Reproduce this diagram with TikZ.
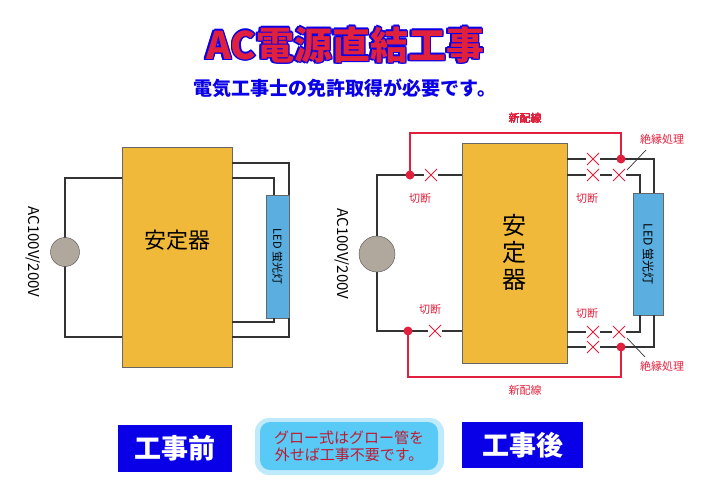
\documentclass[tikz,border=0pt]{standalone}
\usepackage{fontspec}
\setmainfont{Noto Sans CJK JP}
\usetikzlibrary{positioning}
\definecolor{ballast}{HTML}{F0B93A}
\definecolor{lampblue}{HTML}{5BAEE0}
\definecolor{plug}{HTML}{B0A89C}
\definecolor{wirered}{HTML}{E0203C}
\definecolor{boxblue}{HTML}{0A00E8}
\tikzset{
  wire/.style={line width=1.3pt,black!80},
  newwire/.style={line width=1.8pt,wirered},
  cut/.style={wirered,line width=0.9pt},
  redlabel/.style={wirered,font=\fontsize{11}{11}\selectfont},
  dot/.style={circle,fill=wirered,inner sep=0pt,minimum size=9pt},
  stepbox/.style={fill=boxblue,text=white,font=\fontsize{27}{27}\selectfont\bfseries,inner sep=0pt}
}
\newcommand{\cutmark}[1]{\draw[cut] ($(#1)+(-6,-6)$) -- ($(#1)+(6,6)$) ($(#1)+(-6,6)$) -- ($(#1)+(6,-6)$);}
\usetikzlibrary{calc}
\begin{document}
\begin{tikzpicture}[x=1pt,y=-1pt]
\useasboundingbox (0,0) rectangle (720,498);
% title
\foreach \dx/\dy in {-1.5/0,1.5/0,0/-1.5,0/1.5,-1.2/-1.2,1.2/1.2,-1.2/1.2,1.2/-1.2}
  \node[boxblue,font=\fontsize{38}{38}\selectfont\bfseries] at ($(345,45)+(\dx,\dy)$) {AC電源直結工事};
\node[wirered,font=\fontsize{38}{38}\selectfont\bfseries] (title) at (345,45) {AC電源直結工事};
\node[boxblue,font=\fontsize{19}{19}\selectfont\bfseries] (sub) at (345,88) {電気工事士の免許取得が必要です。};

% before
\node[draw=black!60,fill=ballast,minimum width=110pt,minimum height=220pt,inner sep=0pt] (ballastA) at (177,257) {};
\node[font=\fontsize{22}{22}\selectfont] at (177,240) {安定器};
\node[draw=black!60,fill=lampblue,minimum width=23pt,minimum height=123pt,inner sep=0pt] (lampA) at (277.5,256.5) {};
\node[rotate=-90,font=\fontsize{11}{11}\selectfont] at (lampA) {LED 蛍光灯};
\draw[wire] (122,178) -- (65,178) -- (65,337) -- (122,337);
\node[draw=black!70,fill=plug,circle,minimum size=29pt,inner sep=0pt] (plugA) at (65,252) {};
\node[rotate=-90,font=\fontsize{15}{15}\selectfont] at (33,252) {AC100V/200V};
\draw[wire] (232,163) -- (289,163) -- (289,195);
\draw[wire] (232,178) -- (274,178) -- (274,195);
\draw[wire] (232,322) -- (274,322) -- (274,318);
\draw[wire] (232,337) -- (289,337) -- (289,318);

% after
\node[draw=black!60,fill=ballast,minimum width=105pt,minimum height=220pt,inner sep=0pt] (ballastB) at (514.5,253) {};
\node[font=\fontsize{24}{27}\selectfont,align=center] at (514.5,252) {安\\定\\器};
\node[draw=black!60,fill=lampblue,minimum width=30pt,minimum height=122pt,inner sep=0pt] (lampB) at (648,254) {};
\node[rotate=-90,font=\fontsize{12}{12}\selectfont] at (lampB) {LED 蛍光灯};
\draw[wire] (462,175) -- (377,175) -- (377,331) -- (462,331);
\node[draw=black!70,fill=plug,circle,minimum size=36pt,inner sep=0pt] (plugB) at (377,254) {};
\node[rotate=-90,font=\fontsize{15}{15}\selectfont] at (342,254) {AC100V/200V};
\draw[wire] (567,159) -- (654,159) -- (654,193);
\draw[wire] (567,175) -- (640,175) -- (640,193);
\draw[wire] (567,332) -- (640,332) -- (640,315);
\draw[wire] (567,347) -- (654,347) -- (654,315);
% white gaps where cut
\foreach \x/\y in {431/175,435/331,593/159,593/175,619/175,593/332,593/347,619/332}
  \fill[white] (\x-7,\y-3) rectangle (\x+7,\y+3);
\draw[newwire] (410,175) -- (410,133) -- (621,133) -- (621,159);
\draw[newwire] (408,331) -- (408,377) -- (621,377) -- (621,347);
\node[dot] (dotTL) at (410,175) {};
\node[dot] (dotTR) at (621,159) {};
\node[dot] (dotBL) at (408,331) {};
\node[dot] (dotBR) at (621,347) {};
\foreach \x/\y in {431/175,435/331,593/159,593/175,619/175,593/332,593/347,619/332}
  \cutmark{\x,\y}
\node[redlabel] (wireT) at (525,118) {新配線};
\node[redlabel] (wireB) at (525,390) {新配線};
\node[redlabel] at (420,198) {切断};
\node[redlabel] at (587,198) {切断};
\node[redlabel] at (430,309) {切断};
\node[redlabel] at (587,313) {切断};
\node[redlabel] (insT) at (662,139) {絶縁処理};
\node[redlabel] (insB) at (662,366) {絶縁処理};
\draw[black!80,line width=0.7pt] (646,150) -- (627,170);
\draw[black!80,line width=0.7pt] (627,338) -- (645,357);

% bottom
\node[stepbox,minimum width=114pt,minimum height=47pt] (before) at (175,448.5) {工事前};
\node[stepbox,minimum width=121pt,minimum height=46pt] (after) at (522.5,445) {工事後};
\fill[cyan!25,rounded corners=14pt] (255,418) rectangle (444,475);
\node[fill=cyan!65!white,rounded corners=10pt,minimum width=178pt,minimum height=48pt,align=center,
  text=wirered!85!black,font=\fontsize{15}{17}\selectfont] (note) at (349,446) {グロー式はグロー管を\\外せば工事不要です。};
\end{tikzpicture}
\end{document}
